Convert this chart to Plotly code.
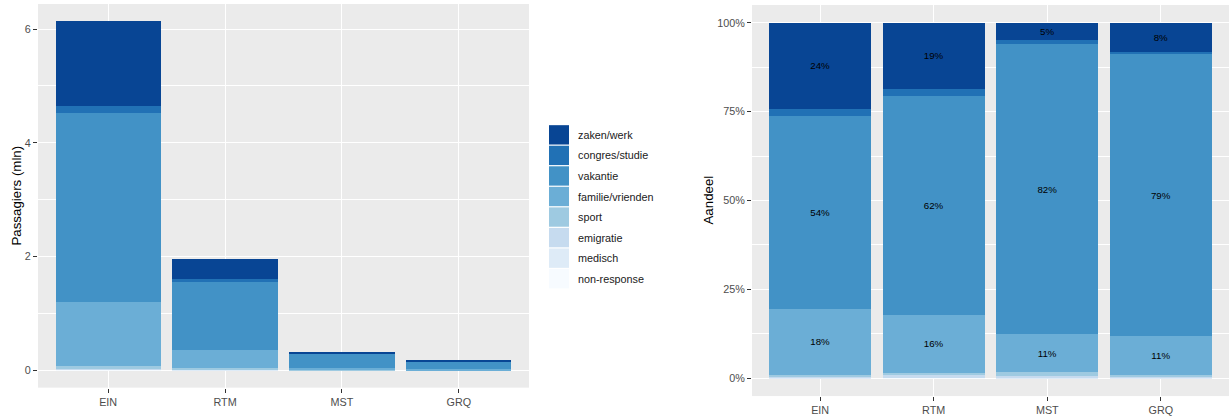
import plotly.graph_objects as go

# ---- data (passengers, mln) ----
categories = ["EIN", "RTM", "MST", "GRQ"]
purposes = ["zaken/werk", "congres/studie", "vakantie", "familie/vrienden",
            "sport", "emigratie", "medisch", "non-response"]
zaken_werk = [1.48, 0.365, 0.015, 0.0142]
congres_studie = [0.13, 0.037, 0.0034, 0.0014]
vakantie = [3.33, 1.209, 0.2536, 0.1386]
familie_vrienden = [1.13, 0.318, 0.0329, 0.0193]
sport = [0.03, 0.016, 0.0031, 0.0009]
emigratie = [0.02, 0.010, 0.0016, 0.0005]
medisch = [0.01, 0.004, 0.0005, 0.0002]
non_response = [0.005, 0.002, 0.0002, 0.0001]
colors = ["#084594", "#2171B5", "#4292C6", "#6BAED6",
          "#9ECAE1", "#C6DBEF", "#DEEBF7", "#F7FBFF"]

series = [zaken_werk, congres_studie, vakantie, familie_vrienden,
          sport, emigratie, medisch, non_response]

W, H = 1230, 416
FONT = "Liberation Sans, Arial, sans-serif"

def px_x(p):
    return p / W

def px_y(p):
    return 1 - p / H

totals = [sum(s[i] for s in series) for i in range(len(categories))]

fig = go.Figure()
# stack from bottom (non-response) to top (zaken/werk)
for name, vals, col in reversed(list(zip(purposes, series, colors))):
    fig.add_bar(x=categories, y=vals, name=name, marker_color=col,
                marker_line_width=0, xaxis="x", yaxis="y", showlegend=False)
    shares = [v / t for v, t in zip(vals, totals)]
    labels = [f"{round(s * 100)}%" if s >= 0.04 else "" for s in shares]
    fig.add_bar(x=categories, y=shares, name=name, marker_color=col,
                marker_line_width=0, xaxis="x2", yaxis="y2", showlegend=False,
                text=labels, textposition="inside", insidetextanchor="middle",
                textangle=0, constraintext="none",
                textfont=dict(size=9.7, color="#000000", family=FONT))

tick_font = dict(size=10.8, color="#4D4D4D", family=FONT)
common_x = dict(showgrid=True, gridcolor="white", gridwidth=1.1, ticks="outside",
                ticklen=4, tickwidth=1, tickcolor="#333333", tickfont=tick_font,
                range=[-0.6, 3.6], showline=False, zeroline=False)
common_y = dict(showgrid=True, gridcolor="white", gridwidth=1.1, ticks="outside",
                ticklen=4, tickwidth=1, tickcolor="#333333", tickfont=tick_font,
                showline=False, zeroline=False)

ymax = max(totals)
fig.update_layout(
    width=W, height=H, margin=dict(l=0, r=0, t=0, b=0),
    barmode="stack", bargap=0.1,
    paper_bgcolor="white", plot_bgcolor="#EBEBEB",
    font=dict(family=FONT),
    xaxis=dict(domain=[px_x(38), px_x(529)], anchor="y", **common_x),
    yaxis=dict(domain=[px_y(389.5), px_y(4)], anchor="x",
               range=[-0.05 * ymax, 1.05 * ymax], tickvals=[0, 2, 4, 6],
               minor=dict(dtick=1, tick0=0, showgrid=True, gridcolor="white",
                          gridwidth=0.5, ticks=""),
               **common_y),
    xaxis2=dict(domain=[px_x(752), px_x(1229)], anchor="y2", **common_x),
    yaxis2=dict(domain=[px_y(398), px_y(5)], anchor="x2",
                range=[-0.05, 1.05], tickvals=[0, 0.25, 0.5, 0.75, 1],
                ticktext=["0%", "25%", "50%", "75%", "100%"],
                minor=dict(dtick=0.125, tick0=0, showgrid=True, gridcolor="white",
                           gridwidth=0.5, ticks=""),
                **common_y),
)

annotations = [
    dict(text="Passagiers (mln)", x=px_x(17), y=px_y(196.5), xref="paper", yref="paper",
         textangle=-90, showarrow=False, xanchor="center", yanchor="middle",
         font=dict(size=13.3, color="#000000", family=FONT)),
    dict(text="Aandeel", x=px_x(709), y=px_y(201.5), xref="paper", yref="paper",
         textangle=-90, showarrow=False, xanchor="center", yanchor="middle",
         font=dict(size=13.3, color="#000000", family=FONT)),
]
shapes = []
pitch = 20.65
for i, (name, col) in enumerate(zip(purposes, colors)):
    cy = 135.5 + pitch * i
    shapes.append(dict(type="rect", xref="paper", yref="paper",
                       x0=px_x(549), x1=px_x(569),
                       y0=px_y(cy + pitch / 2 - 0.6), y1=px_y(cy - pitch / 2 + 0.6),
                       fillcolor=col, line=dict(width=0), layer="above"))
    annotations.append(dict(text=name, x=px_x(576), y=px_y(cy), xref="paper", yref="paper",
                            showarrow=False, xanchor="left", yanchor="middle",
                            font=dict(size=10.8, color="#1A1A1A", family=FONT)))

fig.update_layout(annotations=annotations, shapes=shapes)
fig.write_html(
    "out.html",
    config={"displayModeBar": False},
    post_script="document.body.style.margin='0px';document.body.style.overflow='hidden';",
)
